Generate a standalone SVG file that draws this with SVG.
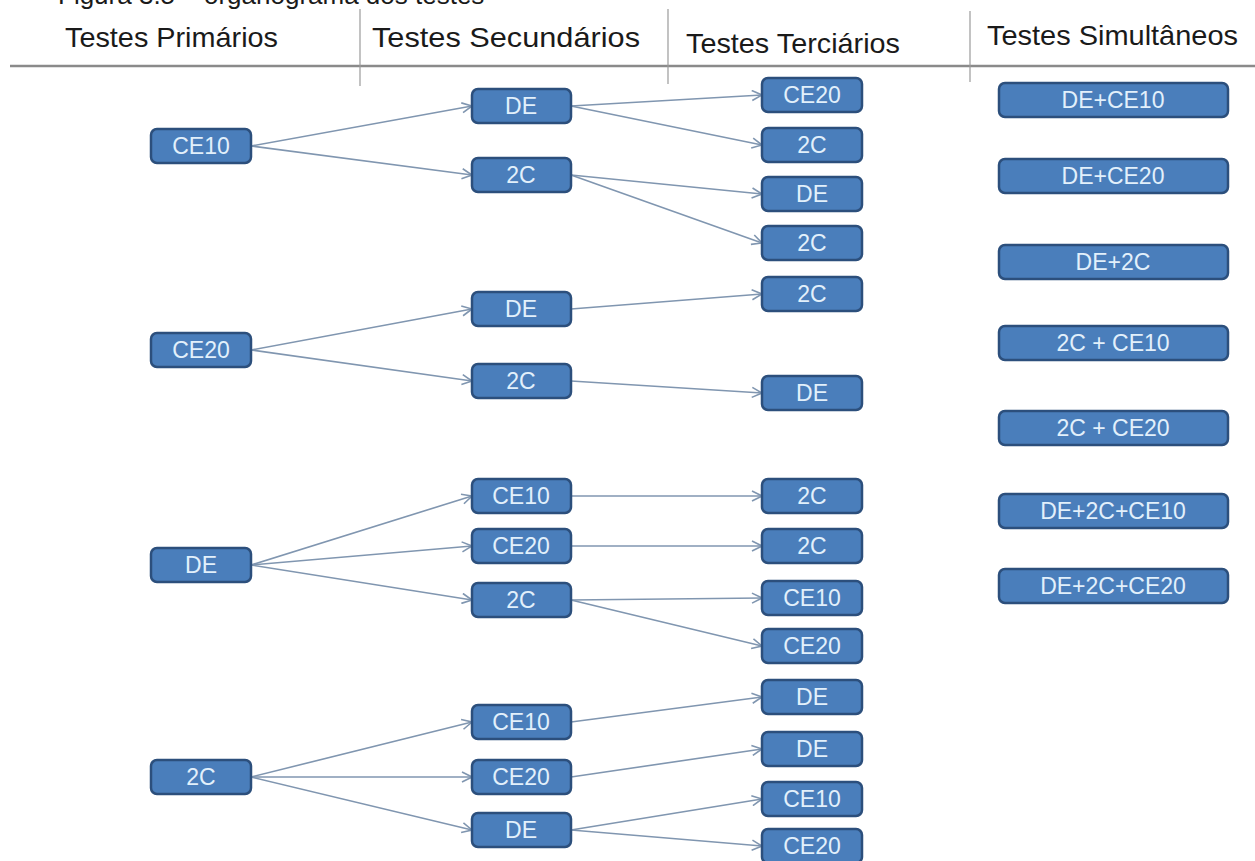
<svg xmlns="http://www.w3.org/2000/svg" width="1255" height="861" viewBox="0 0 1255 861">
<style>
.hdr{font-family:"Liberation Sans",Arial,sans-serif;font-size:28px;fill:#1a1a1a}
.title{font-family:"Liberation Sans",Arial,sans-serif;font-size:26px;fill:#1a1a1a}
.box{fill:#4a7ebb;stroke:#2c4f7c;stroke-width:2.5}
.lbl{font-family:"Liberation Sans",Arial,sans-serif;font-size:23px;fill:#e2f0fb;text-anchor:middle}
.edge{stroke:#8096b0;stroke-width:1.6;fill:none;marker-end:url(#arr)}
.sep{stroke:#9a9a9a;stroke-width:1.2}
</style>
<defs>
<marker id="arr" viewBox="0 0 12 12" markerWidth="12" markerHeight="12" refX="11" refY="6" orient="auto" markerUnits="userSpaceOnUse">
<path d="M1,1 L11,6 L1,11" fill="none" stroke="#8096b0" stroke-width="1.6"/>
</marker>
</defs>
<rect width="1255" height="861" fill="#ffffff"/>
<text class="title" x="58" y="4">Figura 3.5 – organograma dos testes</text>
<g id="header">
<line x1="10" y1="66" x2="1255" y2="66" stroke="#8a8a8a" stroke-width="2.5"/>
<line class="sep" x1="360" y1="9" x2="360" y2="86"/>
<line class="sep" x1="668" y1="9" x2="668" y2="84"/>
<line class="sep" x1="970" y1="11" x2="970" y2="82"/>
<text class="hdr" x="65" y="47" textLength="213" lengthAdjust="spacingAndGlyphs">Testes Primários</text>
<text class="hdr" x="372" y="47" textLength="268" lengthAdjust="spacingAndGlyphs">Testes Secundários</text>
<text class="hdr" x="686" y="53" textLength="214" lengthAdjust="spacingAndGlyphs">Testes Terciários</text>
<text class="hdr" x="987" y="45" textLength="251" lengthAdjust="spacingAndGlyphs">Testes Simultâneos</text>
</g>
<g id="connectors">
<line class="edge" x1="251" y1="146" x2="472" y2="106"/>
<line class="edge" x1="251" y1="146" x2="472" y2="175"/>
<line class="edge" x1="571" y1="106" x2="762" y2="95"/>
<line class="edge" x1="571" y1="106" x2="762" y2="145"/>
<line class="edge" x1="571" y1="175" x2="762" y2="194"/>
<line class="edge" x1="571" y1="175" x2="762" y2="243"/>
<line class="edge" x1="251" y1="350" x2="472" y2="309"/>
<line class="edge" x1="251" y1="350" x2="472" y2="381"/>
<line class="edge" x1="571" y1="309" x2="762" y2="294"/>
<line class="edge" x1="571" y1="381" x2="762" y2="393"/>
<line class="edge" x1="251" y1="565" x2="472" y2="496"/>
<line class="edge" x1="251" y1="565" x2="472" y2="546"/>
<line class="edge" x1="251" y1="565" x2="472" y2="600"/>
<line class="edge" x1="571" y1="496" x2="762" y2="496"/>
<line class="edge" x1="571" y1="546" x2="762" y2="546"/>
<line class="edge" x1="571" y1="600" x2="762" y2="598"/>
<line class="edge" x1="571" y1="600" x2="762" y2="646"/>
<line class="edge" x1="251" y1="777" x2="472" y2="722"/>
<line class="edge" x1="251" y1="777" x2="472" y2="777"/>
<line class="edge" x1="251" y1="777" x2="472" y2="830"/>
<line class="edge" x1="571" y1="722" x2="762" y2="697"/>
<line class="edge" x1="571" y1="777" x2="762" y2="749"/>
<line class="edge" x1="571" y1="830" x2="762" y2="799"/>
<line class="edge" x1="571" y1="830" x2="762" y2="846"/>
</g>
<g id="p1"><rect class="box" x="151" y="129" width="100" height="34" rx="6"/><text class="lbl" x="201" y="154">CE10</text></g>
<g id="p2"><rect class="box" x="151" y="333" width="100" height="34" rx="6"/><text class="lbl" x="201" y="358">CE20</text></g>
<g id="p3"><rect class="box" x="151" y="548" width="100" height="34" rx="6"/><text class="lbl" x="201" y="573">DE</text></g>
<g id="p4"><rect class="box" x="151" y="760" width="100" height="34" rx="6"/><text class="lbl" x="201" y="785">2C</text></g>
<g id="s1"><rect class="box" x="472" y="89" width="99" height="34" rx="6"/><text class="lbl" x="521" y="114">DE</text></g>
<g id="s2"><rect class="box" x="472" y="158" width="99" height="34" rx="6"/><text class="lbl" x="521" y="183">2C</text></g>
<g id="s3"><rect class="box" x="472" y="292" width="99" height="34" rx="6"/><text class="lbl" x="521" y="317">DE</text></g>
<g id="s4"><rect class="box" x="472" y="364" width="99" height="34" rx="6"/><text class="lbl" x="521" y="389">2C</text></g>
<g id="s5"><rect class="box" x="472" y="479" width="99" height="34" rx="6"/><text class="lbl" x="521" y="504">CE10</text></g>
<g id="s6"><rect class="box" x="472" y="529" width="99" height="34" rx="6"/><text class="lbl" x="521" y="554">CE20</text></g>
<g id="s7"><rect class="box" x="472" y="583" width="99" height="34" rx="6"/><text class="lbl" x="521" y="608">2C</text></g>
<g id="s8"><rect class="box" x="472" y="705" width="99" height="34" rx="6"/><text class="lbl" x="521" y="730">CE10</text></g>
<g id="s9"><rect class="box" x="472" y="760" width="99" height="34" rx="6"/><text class="lbl" x="521" y="785">CE20</text></g>
<g id="s10"><rect class="box" x="472" y="813" width="99" height="34" rx="6"/><text class="lbl" x="521" y="838">DE</text></g>
<g id="t1"><rect class="box" x="762" y="78" width="100" height="34" rx="6"/><text class="lbl" x="812" y="103">CE20</text></g>
<g id="t2"><rect class="box" x="762" y="128" width="100" height="34" rx="6"/><text class="lbl" x="812" y="153">2C</text></g>
<g id="t3"><rect class="box" x="762" y="177" width="100" height="34" rx="6"/><text class="lbl" x="812" y="202">DE</text></g>
<g id="t4"><rect class="box" x="762" y="226" width="100" height="34" rx="6"/><text class="lbl" x="812" y="251">2C</text></g>
<g id="t5"><rect class="box" x="762" y="277" width="100" height="34" rx="6"/><text class="lbl" x="812" y="302">2C</text></g>
<g id="t6"><rect class="box" x="762" y="376" width="100" height="34" rx="6"/><text class="lbl" x="812" y="401">DE</text></g>
<g id="t7"><rect class="box" x="762" y="479" width="100" height="34" rx="6"/><text class="lbl" x="812" y="504">2C</text></g>
<g id="t8"><rect class="box" x="762" y="529" width="100" height="34" rx="6"/><text class="lbl" x="812" y="554">2C</text></g>
<g id="t9"><rect class="box" x="762" y="581" width="100" height="34" rx="6"/><text class="lbl" x="812" y="606">CE10</text></g>
<g id="t10"><rect class="box" x="762" y="629" width="100" height="34" rx="6"/><text class="lbl" x="812" y="654">CE20</text></g>
<g id="t11"><rect class="box" x="762" y="680" width="100" height="34" rx="6"/><text class="lbl" x="812" y="705">DE</text></g>
<g id="t12"><rect class="box" x="762" y="732" width="100" height="34" rx="6"/><text class="lbl" x="812" y="757">DE</text></g>
<g id="t13"><rect class="box" x="762" y="782" width="100" height="34" rx="6"/><text class="lbl" x="812" y="807">CE10</text></g>
<g id="t14"><rect class="box" x="762" y="829" width="100" height="34" rx="6"/><text class="lbl" x="812" y="854">CE20</text></g>
<g id="m1"><rect class="box" x="999" y="83" width="229" height="34" rx="6"/><text class="lbl" x="1113" y="108">DE+CE10</text></g>
<g id="m2"><rect class="box" x="999" y="159" width="229" height="34" rx="6"/><text class="lbl" x="1113" y="184">DE+CE20</text></g>
<g id="m3"><rect class="box" x="999" y="245" width="229" height="34" rx="6"/><text class="lbl" x="1113" y="270">DE+2C</text></g>
<g id="m4"><rect class="box" x="999" y="326" width="229" height="34" rx="6"/><text class="lbl" x="1113" y="351">2C + CE10</text></g>
<g id="m5"><rect class="box" x="999" y="411" width="229" height="34" rx="6"/><text class="lbl" x="1113" y="436">2C + CE20</text></g>
<g id="m6"><rect class="box" x="999" y="494" width="229" height="34" rx="6"/><text class="lbl" x="1113" y="519">DE+2C+CE10</text></g>
<g id="m7"><rect class="box" x="999" y="569" width="229" height="34" rx="6"/><text class="lbl" x="1113" y="594">DE+2C+CE20</text></g>
</svg>
